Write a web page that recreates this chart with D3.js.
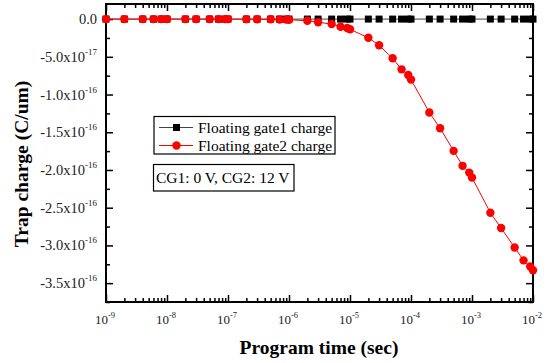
<!DOCTYPE html>
<html>
<head>
<meta charset="utf-8">
<script src="https://cdn.jsdelivr.net/npm/d3@7"></script>
<style>
  body { margin: 0; background: #fff; }
  svg { display: block; }
  svg text { font-family: "Times New Roman", "Liberation Serif", Times, "DejaVu Serif", serif; }
</style>
</head>
<body>
<svg id="chart" width="548" height="363"></svg>
<script>
// program times (sec)
var times = [1e-9, 2e-9, 4e-9, 6e-9, 8e-9,
  1e-8, 2e-8, 3e-8, 5e-8, 7e-8, 9e-8,
  1e-7, 2e-7, 3e-7, 5e-7, 7e-7, 9e-7,
  1e-6, 2e-6, 3e-6, 5e-6, 7e-6, 9e-6,
  1e-5, 2e-5, 3e-5, 5e-5, 7e-5, 9e-5,
  1e-4, 2e-4, 3e-4, 5e-4, 7e-4, 9e-4,
  1e-3, 2e-3, 3e-3, 5e-3, 7e-3, 9e-3,
  1e-2]

// trap charge (C/um)
var gate1 = times.map(function () { return 0 })
var gate2 = [0, 0, 0, 0, 0,
  0, 0, 0, 0, 0, 0,
  0, -0.01e-17, -0.02e-17, -0.03e-17, -0.05e-17, -0.07e-17,
  -0.09e-17, -0.22e-17, -0.41e-17, -0.66e-17, -1.02e-17, -1.19e-17,
  -1.35e-17, -2.48e-17, -3.47e-17, -5.20e-17, -6.66e-17, -7.42e-17,
  -8.02e-17, -12.38e-17, -14.46e-17, -17.47e-17, -19.45e-17, -20.35e-17,
  -21.01e-17, -25.67e-17, -27.70e-17, -30.28e-17, -31.98e-17, -32.80e-17,
  -33.30e-17]

var yMajor = [0, -5e-17, -1e-16, -1.5e-16, -2e-16, -2.5e-16, -3e-16, -3.5e-16]
var yLabels = [["0.0", ""], ["-5.0x10", "-17"], ["-1.0x10", "-16"], ["-1.5x10", "-16"],
  ["-2.0x10", "-16"], ["-2.5x10", "-16"], ["-3.0x10", "-16"], ["-3.5x10", "-16"]]
var xMajor = [1e-9, 1e-8, 1e-7, 1e-6, 1e-5, 1e-4, 1e-3, 1e-2]
var xExp = ["-9", "-8", "-7", "-6", "-5", "-4", "-3", "-2"]

var seriesNames = ["Floating gate1 charge", "Floating gate2 charge"]
var note = "CG1: 0 V, CG2: 12 V"

var svg = d3.select("#chart")
var L = 106, R = 533, T = 4, B = 302

var x = d3.scaleLog().domain([1e-9, 1e-2]).range([L, R])
var y = d3.scaleLinear().domain([-3.75e-16, 2e-17]).range([B, T])

// minor ticks
var xMinor = []
xMajor.slice(0, -1).forEach(function (d) {
  for (var k = 2; k <= 9; k++) xMinor.push(d * k)
})
var yMinor = yMajor.map(function (d) { return d - 2.5e-17 })

// inward ticks on all four sides
var axBottom = d3.axisTop(x).tickValues(xMajor).tickSize(7).tickFormat("")
var axBottomMin = d3.axisTop(x).tickValues(xMinor).tickSize(4).tickFormat("")
var axTop = d3.axisBottom(x).tickValues(xMajor).tickSize(7).tickFormat("")
var axTopMin = d3.axisBottom(x).tickValues(xMinor).tickSize(4).tickFormat("")
var axLeft = d3.axisRight(y).tickValues(yMajor).tickSize(7).tickFormat("")
var axLeftMin = d3.axisRight(y).tickValues(yMinor).tickSize(4).tickFormat("")
var axRight = d3.axisLeft(y).tickValues(yMajor).tickSize(7).tickFormat("")
var axRightMin = d3.axisLeft(y).tickValues(yMinor).tickSize(4).tickFormat("")

function put(ax, tx, ty) {
  var g = svg.append("g").attr("transform", "translate(" + tx + "," + ty + ")").call(ax)
  g.select(".domain").remove()
  g.selectAll("line").attr("stroke", "#000").attr("stroke-width", 1.5)
}
put(axBottom, 0, B); put(axBottomMin, 0, B)
put(axTop, 0, T); put(axTopMin, 0, T)
put(axLeft, L, 0); put(axLeftMin, L, 0)
put(axRight, R, 0); put(axRightMin, R, 0)

svg.append("rect").attr("x", L).attr("y", T).attr("width", R - L).attr("height", B - T)
  .attr("fill", "none").attr("stroke", "#000").attr("stroke-width", 2)

// tick labels
xMajor.forEach(function (d, i) {
  var t = svg.append("text").attr("x", x(d) - 1).attr("y", 324).attr("text-anchor", "middle")
    .style("font-size", "13px").attr("fill", "#222")
  t.append("tspan").text("10")
  t.append("tspan").attr("dy", -6).style("font-size", "8.5px").text(xExp[i])
})
yMajor.forEach(function (d, i) {
  var lab = yLabels[i]
  var t = svg.append("text").attr("y", y(d) + 5).attr("text-anchor", "end")
    .style("font-size", "14.5px").attr("fill", "#222")
  if (lab[1] === "") {
    t.attr("x", 97).text(lab[0])
  } else {
    t.attr("x", 97)
    t.append("tspan").text(lab[0])
    t.append("tspan").attr("dy", -7).style("font-size", "9px").text(lab[1])
  }
})

// axis titles
svg.append("text").attr("x", 319).attr("y", 354).attr("text-anchor", "middle")
  .style("font-size", "19.5px").style("font-weight", "bold").text("Program time (sec)")
svg.append("text").attr("transform", "translate(28,164) rotate(-90)").attr("text-anchor", "middle")
  .style("font-size", "19.5px").style("font-weight", "bold").text("Trap charge (C/um)")

// series
var line = d3.line().x(function (d) { return x(d[0]) }).y(function (d) { return y(d[1]) })
var s1 = times.map(function (t, i) { return [t, gate1[i]] })
var s2 = times.map(function (t, i) { return [t, gate2[i]] })

svg.append("path").datum(s1).attr("d", line).attr("fill", "none").attr("stroke", "#444").attr("stroke-width", 1)
svg.selectAll(".sq").data(s1).enter().append("rect").attr("class", "sq")
  .attr("x", function (d) { return x(d[0]) - 3.5 }).attr("y", function (d) { return y(d[1]) - 3.5 })
  .attr("width", 7).attr("height", 7).attr("fill", "#000")

svg.append("path").datum(s2).attr("d", line).attr("fill", "none").attr("stroke", "red").attr("stroke-width", 1)
svg.selectAll(".ci").data(s2).enter().append("circle").attr("class", "ci")
  .attr("cx", function (d) { return x(d[0]) }).attr("cy", function (d) { return y(d[1]) })
  .attr("r", 4.2).attr("fill", "red")

// legend
svg.append("rect").attr("x", 154).attr("y", 116.5).attr("width", 181).attr("height", 37.5)
  .attr("fill", "#fff").attr("stroke", "#000").attr("stroke-width", 1.2)
svg.append("line").attr("x1", 159).attr("x2", 193).attr("y1", 127.5).attr("y2", 127.5).attr("stroke", "#444")
svg.append("rect").attr("x", 173).attr("y", 124).attr("width", 7).attr("height", 7).attr("fill", "#000")
svg.append("text").attr("x", 198).attr("y", 132.5).text(seriesNames[0]).style("font-size", "15.5px")
svg.append("line").attr("x1", 159).attr("x2", 193).attr("y1", 145.5).attr("y2", 145.5).attr("stroke", "red")
svg.append("circle").attr("cx", 176.5).attr("cy", 145.5).attr("r", 4.2).attr("fill", "red")
svg.append("text").attr("x", 198).attr("y", 150.5).text(seriesNames[1]).style("font-size", "15.5px")

// annotation
svg.append("rect").attr("x", 153.5).attr("y", 164.5).attr("width", 140.5).attr("height", 26.5)
  .attr("fill", "#fff").attr("stroke", "#000").attr("stroke-width", 1.2)
svg.append("text").attr("x", 156).attr("y", 183).text(note).style("font-size", "15.5px")
</script>
</body>
</html>
